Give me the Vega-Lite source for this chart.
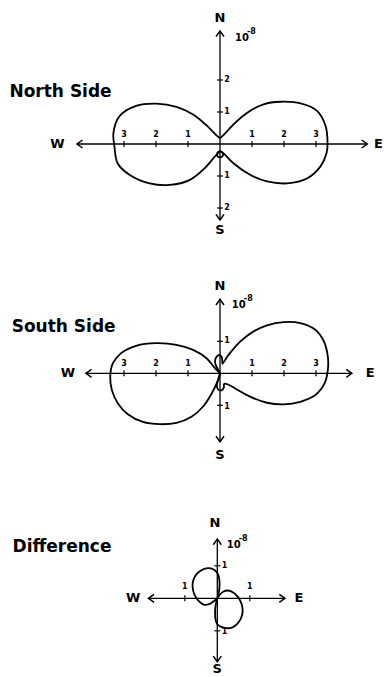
{
  "$schema": "https://vega.github.io/schema/vega-lite/v6.json",
  "padding": 0,
  "spacing": 0,
  "bounds": "flush",
  "background": "white",
  "config": {"view": {"stroke": null}, "text": {"font": "DejaVu Sans", "color": "black"}},
  "datasets": {
    "curves": [
      {"p":1,"l":"E","i":0,"x":0.0,"y":0.18},{"p":1,"l":"E","i":1,"x":0.13,"y":0.3},{"p":1,"l":"E","i":2,"x":0.42,"y":0.61},{"p":1,"l":"E","i":3,"x":0.84,"y":0.97},{"p":1,"l":"E","i":4,"x":1.36,"y":1.24},{"p":1,"l":"E","i":5,"x":1.89,"y":1.32},{"p":1,"l":"E","i":6,"x":2.52,"y":1.27},{"p":1,"l":"E","i":7,"x":3.04,"y":1.03},{"p":1,"l":"E","i":8,"x":3.3,"y":0.56},{"p":1,"l":"E","i":9,"x":3.36,"y":0.03},{"p":1,"l":"E","i":10,"x":3.33,"y":-0.28},{"p":1,"l":"E","i":11,"x":3.14,"y":-0.7},{"p":1,"l":"E","i":12,"x":2.73,"y":-1.07},{"p":1,"l":"E","i":13,"x":2.1,"y":-1.23},{"p":1,"l":"E","i":14,"x":1.47,"y":-1.17},{"p":1,"l":"E","i":15,"x":0.94,"y":-0.96},{"p":1,"l":"E","i":16,"x":0.42,"y":-0.6},{"p":1,"l":"E","i":17,"x":0.12,"y":-0.3},{"p":1,"l":"E","i":18,"x":0.0,"y":-0.22},
      {"p":1,"l":"W","i":0,"x":0.0,"y":0.18},{"p":1,"l":"W","i":1,"x":-0.12,"y":0.28},{"p":1,"l":"W","i":2,"x":-0.42,"y":0.58},{"p":1,"l":"W","i":3,"x":-0.84,"y":0.92},{"p":1,"l":"W","i":4,"x":-1.36,"y":1.16},{"p":1,"l":"W","i":5,"x":-1.99,"y":1.26},{"p":1,"l":"W","i":6,"x":-2.62,"y":1.19},{"p":1,"l":"W","i":7,"x":-3.14,"y":0.87},{"p":1,"l":"W","i":8,"x":-3.33,"y":0.35},{"p":1,"l":"W","i":9,"x":-3.3,"y":-0.07},{"p":1,"l":"W","i":10,"x":-3.2,"y":-0.6},{"p":1,"l":"W","i":11,"x":-2.83,"y":-0.96},{"p":1,"l":"W","i":12,"x":-2.2,"y":-1.23},{"p":1,"l":"W","i":13,"x":-1.57,"y":-1.28},{"p":1,"l":"W","i":14,"x":-0.94,"y":-1.12},{"p":1,"l":"W","i":15,"x":-0.47,"y":-0.75},{"p":1,"l":"W","i":16,"x":-0.16,"y":-0.39},{"p":1,"l":"W","i":17,"x":0.0,"y":-0.22},
      {"p":1,"l":"L","i":0,"x":0.0,"y":-0.22},{"p":1,"l":"L","i":1,"x":0.08,"y":-0.27},{"p":1,"l":"L","i":2,"x":0.09,"y":-0.36},{"p":1,"l":"L","i":3,"x":0.0,"y":-0.42},{"p":1,"l":"L","i":4,"x":-0.09,"y":-0.36},{"p":1,"l":"L","i":5,"x":-0.08,"y":-0.27},{"p":1,"l":"L","i":6,"x":0.0,"y":-0.22},
      {"p":2,"l":"E","i":0,"x":0.0,"y":0.0},{"p":2,"l":"E","i":1,"x":-0.08,"y":0.15},{"p":2,"l":"E","i":2,"x":-0.15,"y":0.32},{"p":2,"l":"E","i":3,"x":-0.13,"y":0.48},{"p":2,"l":"E","i":4,"x":-0.04,"y":0.57},{"p":2,"l":"E","i":5,"x":0.05,"y":0.52},{"p":2,"l":"E","i":6,"x":0.07,"y":0.4},{"p":2,"l":"E","i":7,"x":0.08,"y":0.3},{"p":2,"l":"E","i":8,"x":0.18,"y":0.45},{"p":2,"l":"E","i":9,"x":0.31,"y":0.63},{"p":2,"l":"E","i":10,"x":0.63,"y":0.99},{"p":2,"l":"E","i":11,"x":1.05,"y":1.31},{"p":2,"l":"E","i":12,"x":1.47,"y":1.5},{"p":2,"l":"E","i":13,"x":1.99,"y":1.6},{"p":2,"l":"E","i":14,"x":2.51,"y":1.57},{"p":2,"l":"E","i":15,"x":2.98,"y":1.36},{"p":2,"l":"E","i":16,"x":3.25,"y":0.99},{"p":2,"l":"E","i":17,"x":3.37,"y":0.52},{"p":2,"l":"E","i":18,"x":3.37,"y":0.1},{"p":2,"l":"E","i":19,"x":3.27,"y":-0.31},{"p":2,"l":"E","i":20,"x":2.98,"y":-0.68},{"p":2,"l":"E","i":21,"x":2.51,"y":-0.89},{"p":2,"l":"E","i":22,"x":1.99,"y":-0.97},{"p":2,"l":"E","i":23,"x":1.47,"y":-0.92},{"p":2,"l":"E","i":24,"x":0.94,"y":-0.73},{"p":2,"l":"E","i":25,"x":0.52,"y":-0.5},{"p":2,"l":"E","i":26,"x":0.25,"y":-0.35},{"p":2,"l":"E","i":27,"x":0.13,"y":-0.33},{"p":2,"l":"E","i":28,"x":0.12,"y":-0.45},{"p":2,"l":"E","i":29,"x":0.05,"y":-0.53},{"p":2,"l":"E","i":30,"x":-0.06,"y":-0.5},{"p":2,"l":"E","i":31,"x":-0.1,"y":-0.38},{"p":2,"l":"E","i":32,"x":-0.06,"y":-0.2},{"p":2,"l":"E","i":33,"x":0.0,"y":0.0},
      {"p":2,"l":"W","i":0,"x":0.0,"y":0.0},{"p":2,"l":"W","i":1,"x":-0.16,"y":0.16},{"p":2,"l":"W","i":2,"x":-0.42,"y":0.47},{"p":2,"l":"W","i":3,"x":-0.84,"y":0.73},{"p":2,"l":"W","i":4,"x":-1.36,"y":0.89},{"p":2,"l":"W","i":5,"x":-1.99,"y":0.94},{"p":2,"l":"W","i":6,"x":-2.62,"y":0.86},{"p":2,"l":"W","i":7,"x":-3.09,"y":0.63},{"p":2,"l":"W","i":8,"x":-3.35,"y":0.31},{"p":2,"l":"W","i":9,"x":-3.43,"y":-0.1},{"p":2,"l":"W","i":10,"x":-3.38,"y":-0.52},{"p":2,"l":"W","i":11,"x":-3.19,"y":-0.94},{"p":2,"l":"W","i":12,"x":-2.88,"y":-1.28},{"p":2,"l":"W","i":13,"x":-2.41,"y":-1.52},{"p":2,"l":"W","i":14,"x":-1.88,"y":-1.59},{"p":2,"l":"W","i":15,"x":-1.36,"y":-1.55},{"p":2,"l":"W","i":16,"x":-0.89,"y":-1.36},{"p":2,"l":"W","i":17,"x":-0.52,"y":-1.03},{"p":2,"l":"W","i":18,"x":-0.26,"y":-0.63},{"p":2,"l":"W","i":19,"x":-0.1,"y":-0.31},{"p":2,"l":"W","i":20,"x":-0.02,"y":-0.1},{"p":2,"l":"W","i":21,"x":0.0,"y":0.0},
      {"p":3,"l":"A","i":0,"x":0.0,"y":0.0},{"p":3,"l":"A","i":1,"x":0.05,"y":0.2},{"p":3,"l":"A","i":2,"x":0.07,"y":0.45},{"p":3,"l":"A","i":3,"x":0.05,"y":0.65},{"p":3,"l":"A","i":4,"x":0.0,"y":0.78},{"p":3,"l":"A","i":5,"x":-0.1,"y":0.88},{"p":3,"l":"A","i":6,"x":-0.25,"y":0.93},{"p":3,"l":"A","i":7,"x":-0.42,"y":0.9},{"p":3,"l":"A","i":8,"x":-0.58,"y":0.8},{"p":3,"l":"A","i":9,"x":-0.7,"y":0.65},{"p":3,"l":"A","i":10,"x":-0.76,"y":0.45},{"p":3,"l":"A","i":11,"x":-0.74,"y":0.22},{"p":3,"l":"A","i":12,"x":-0.65,"y":0.02},{"p":3,"l":"A","i":13,"x":-0.52,"y":-0.13},{"p":3,"l":"A","i":14,"x":-0.4,"y":-0.2},{"p":3,"l":"A","i":15,"x":-0.25,"y":-0.18},{"p":3,"l":"A","i":16,"x":-0.12,"y":-0.1},{"p":3,"l":"A","i":17,"x":0.0,"y":0.0},
      {"p":3,"l":"B","i":0,"x":0.0,"y":0.0},{"p":3,"l":"B","i":1,"x":-0.05,"y":-0.2},{"p":3,"l":"B","i":2,"x":-0.07,"y":-0.45},{"p":3,"l":"B","i":3,"x":-0.05,"y":-0.68},{"p":3,"l":"B","i":4,"x":0.0,"y":-0.8},{"p":3,"l":"B","i":5,"x":0.12,"y":-0.88},{"p":3,"l":"B","i":6,"x":0.28,"y":-0.92},{"p":3,"l":"B","i":7,"x":0.45,"y":-0.9},{"p":3,"l":"B","i":8,"x":0.6,"y":-0.8},{"p":3,"l":"B","i":9,"x":0.72,"y":-0.63},{"p":3,"l":"B","i":10,"x":0.78,"y":-0.42},{"p":3,"l":"B","i":11,"x":0.75,"y":-0.18},{"p":3,"l":"B","i":12,"x":0.65,"y":0.02},{"p":3,"l":"B","i":13,"x":0.5,"y":0.17},{"p":3,"l":"B","i":14,"x":0.33,"y":0.24},{"p":3,"l":"B","i":15,"x":0.18,"y":0.2},{"p":3,"l":"B","i":16,"x":0.07,"y":0.1},{"p":3,"l":"B","i":17,"x":0.0,"y":0.0}
    ],
    "axes": [
      {"p":1,"x":-4.47,"y":0,"x2":4.6,"y2":0},{"p":1,"x":0,"y":3.53,"x2":0,"y2":-2.375},
      {"p":2,"x":-4.19,"y":0,"x2":4.12,"y2":0},{"p":2,"x":0,"y":2.31,"x2":0,"y2":-2.14},
      {"p":3,"x":-2.12,"y":0,"x2":2.08,"y2":0},{"p":3,"x":0,"y":1.82,"x2":0,"y2":-1.95}
    ],
    "arrows": [
      {"p":1,"dir":"W","x":-4.47,"y":0},{"p":1,"dir":"E","x":4.6,"y":0},{"p":1,"dir":"N","x":0,"y":3.53},{"p":1,"dir":"S","x":0,"y":-2.375},
      {"p":2,"dir":"W","x":-4.19,"y":0},{"p":2,"dir":"E","x":4.12,"y":0},{"p":2,"dir":"N","x":0,"y":2.31},{"p":2,"dir":"S","x":0,"y":-2.14},
      {"p":3,"dir":"W","x":-2.12,"y":0},{"p":3,"dir":"E","x":2.08,"y":0},{"p":3,"dir":"N","x":0,"y":1.82},{"p":3,"dir":"S","x":0,"y":-1.95}
    ],
    "ticks": [
      {"p":1,"o":"h","x":-3,"y":0},{"p":1,"o":"h","x":-2,"y":0},{"p":1,"o":"h","x":-1,"y":0},{"p":1,"o":"h","x":1,"y":0},{"p":1,"o":"h","x":2,"y":0},{"p":1,"o":"h","x":3,"y":0},
      {"p":1,"o":"v","x":0,"y":2},{"p":1,"o":"v","x":0,"y":1},{"p":1,"o":"v","x":0,"y":-1},{"p":1,"o":"v","x":0,"y":-2},
      {"p":2,"o":"h","x":-3,"y":0},{"p":2,"o":"h","x":-2,"y":0},{"p":2,"o":"h","x":-1,"y":0},{"p":2,"o":"h","x":1,"y":0},{"p":2,"o":"h","x":2,"y":0},{"p":2,"o":"h","x":3,"y":0},
      {"p":2,"o":"v","x":0,"y":1},{"p":2,"o":"v","x":0,"y":-1},
      {"p":3,"o":"h","x":-1,"y":0},{"p":3,"o":"h","x":1,"y":0},
      {"p":3,"o":"v","x":0,"y":1},{"p":3,"o":"v","x":0,"y":-1}
    ],
    "ticklabels": [
      {"p":1,"x":-3,"y":0.27,"t":"3"},{"p":1,"x":-2,"y":0.27,"t":"2"},{"p":1,"x":-1,"y":0.27,"t":"1"},{"p":1,"x":1,"y":0.27,"t":"1"},{"p":1,"x":2,"y":0.27,"t":"2"},{"p":1,"x":3,"y":0.27,"t":"3"},
      {"p":1,"x":0.22,"y":2,"t":"2"},{"p":1,"x":0.22,"y":1,"t":"1"},{"p":1,"x":0.22,"y":-1,"t":"1"},{"p":1,"x":0.22,"y":-2,"t":"2"},
      {"p":2,"x":-3,"y":0.3,"t":"3"},{"p":2,"x":-2,"y":0.3,"t":"2"},{"p":2,"x":-1,"y":0.3,"t":"1"},{"p":2,"x":1,"y":0.3,"t":"1"},{"p":2,"x":2,"y":0.3,"t":"2"},{"p":2,"x":3,"y":0.3,"t":"3"},
      {"p":2,"x":0.22,"y":1,"t":"1"},{"p":2,"x":0.22,"y":-1.05,"t":"1"},
      {"p":3,"x":-1,"y":0.35,"t":"1"},{"p":3,"x":1,"y":0.35,"t":"1"},
      {"p":3,"x":0.22,"y":1,"t":"1"},{"p":3,"x":0.22,"y":-1.05,"t":"1"}
    ],
    "exps": [
      {"p":1,"x":0.47,"y":3.31,"t":"10","s":"-8"},
      {"p":2,"x":0.37,"y":2.14,"t":"10","s":"-8"},
      {"p":3,"x":0.29,"y":1.64,"t":"10","s":"-8"}
    ],
    "compass": [
      {"p":1,"x":0,"y":3.94,"t":"N"},{"p":1,"x":0,"y":-2.69,"t":"S"},{"p":1,"x":-5.08,"y":0,"t":"W"},{"p":1,"x":4.95,"y":0,"t":"E"},
      {"p":2,"x":0,"y":2.73,"t":"N"},{"p":2,"x":0,"y":-2.55,"t":"S"},{"p":2,"x":-4.75,"y":0,"t":"W"},{"p":2,"x":4.69,"y":0,"t":"E"},
      {"p":3,"x":-0.07,"y":2.32,"t":"N"},{"p":3,"x":0,"y":-2.19,"t":"S"},{"p":3,"x":-2.59,"y":0,"t":"W"},{"p":3,"x":2.51,"y":0,"t":"E"}
    ],
    "titles": [
      {"p":1,"x":-6.58,"y":1.48,"t":"North Side"},
      {"p":2,"x":-6.51,"y":1.3,"t":"South Side"},
      {"p":3,"x":-6.3,"y":1.415,"t":"Difference"}
    ]
  },
  "vconcat": [
    {
      "width": 384, "height": 250,
      "encoding": {
        "x": {"field": "x", "type": "quantitative", "scale": {"domain": [-6.875, 5.125], "nice": false, "zero": false}, "axis": null},
        "y": {"field": "y", "type": "quantitative", "scale": {"domain": [-3.3125, 4.5], "nice": false, "zero": false}, "axis": null}
      },
      "layer": [
        {"data": {"name": "axes"}, "transform": [{"filter": "datum.p == 1"}], "mark": {"type": "rule", "color": "black", "strokeWidth": 1.3}, "encoding": {"x2": {"field": "x2"}, "y2": {"field": "y2"}}},
        {"data": {"name": "arrows"}, "transform": [{"filter": "datum.p == 1"}], "mark": {"type": "point", "filled": false, "color": "black", "strokeWidth": 1.5, "size": 64, "opacity": 1}, "encoding": {"shape": {"field": "dir", "type": "nominal", "scale": {"domain": ["N","S","E","W"], "range": ["M-1,1.4L0,0L1,1.4", "M-1,-1.4L0,0L1,-1.4", "M-1.4,-1L0,0L-1.4,1", "M1.4,-1L0,0L1.4,1"]}, "legend": null}}},
        {"data": {"name": "ticks"}, "transform": [{"filter": "datum.p == 1 && datum.o == 'h'"}], "mark": {"type": "tick", "orient": "vertical", "size": 6, "thickness": 1.2, "color": "black", "opacity": 1}},
        {"data": {"name": "ticks"}, "transform": [{"filter": "datum.p == 1 && datum.o == 'v'"}], "mark": {"type": "tick", "orient": "horizontal", "size": 6, "thickness": 1.2, "color": "black", "opacity": 1}},
        {"data": {"name": "curves"}, "transform": [{"filter": "datum.p == 1"}], "mark": {"type": "line", "color": "black", "strokeWidth": 1.8, "interpolate": "catmull-rom"}, "encoding": {"detail": {"field": "l"}, "order": {"field": "i", "type": "quantitative"}}},
        {"data": {"name": "ticklabels"}, "transform": [{"filter": "datum.p == 1"}], "mark": {"type": "text", "fontSize": 8, "fontWeight": "bold"}, "encoding": {"text": {"field": "t"}}},
        {"data": {"name": "exps"}, "transform": [{"filter": "datum.p == 1"}], "mark": {"type": "text", "fontSize": 10, "fontWeight": "bold", "align": "left"}, "encoding": {"text": {"field": "t"}}},
        {"data": {"name": "exps"}, "transform": [{"filter": "datum.p == 1"}], "mark": {"type": "text", "fontSize": 8, "fontWeight": "bold", "align": "left", "dx": 12, "dy": -6}, "encoding": {"text": {"field": "s"}}},
        {"data": {"name": "compass"}, "transform": [{"filter": "datum.p == 1"}], "mark": {"type": "text", "fontSize": 13, "fontWeight": "bold"}, "encoding": {"text": {"field": "t"}}},
        {"data": {"name": "titles"}, "transform": [{"filter": "datum.p == 1"}], "mark": {"type": "text", "fontSize": 17, "fontWeight": "bold", "align": "left", "baseline": "alphabetic"}, "encoding": {"text": {"field": "t"}}}
      ]
    },
    {
      "width": 384, "height": 230,
      "encoding": {
        "x": {"field": "x", "type": "quantitative", "scale": {"domain": [-6.875, 5.125], "nice": false, "zero": false}, "axis": null},
        "y": {"field": "y", "type": "quantitative", "scale": {"domain": [-3.334, 3.853], "nice": false, "zero": false}, "axis": null}
      },
      "layer": [
        {"data": {"name": "axes"}, "transform": [{"filter": "datum.p == 2"}], "mark": {"type": "rule", "color": "black", "strokeWidth": 1.3}, "encoding": {"x2": {"field": "x2"}, "y2": {"field": "y2"}}},
        {"data": {"name": "arrows"}, "transform": [{"filter": "datum.p == 2"}], "mark": {"type": "point", "filled": false, "color": "black", "strokeWidth": 1.5, "size": 64, "opacity": 1}, "encoding": {"shape": {"field": "dir", "type": "nominal", "scale": {"domain": ["N","S","E","W"], "range": ["M-1,1.4L0,0L1,1.4", "M-1,-1.4L0,0L1,-1.4", "M-1.4,-1L0,0L-1.4,1", "M1.4,-1L0,0L1.4,1"]}, "legend": null}}},
        {"data": {"name": "ticks"}, "transform": [{"filter": "datum.p == 2 && datum.o == 'h'"}], "mark": {"type": "tick", "orient": "vertical", "size": 6, "thickness": 1.2, "color": "black", "opacity": 1}},
        {"data": {"name": "ticks"}, "transform": [{"filter": "datum.p == 2 && datum.o == 'v'"}], "mark": {"type": "tick", "orient": "horizontal", "size": 6, "thickness": 1.2, "color": "black", "opacity": 1}},
        {"data": {"name": "curves"}, "transform": [{"filter": "datum.p == 2"}], "mark": {"type": "line", "color": "black", "strokeWidth": 1.8, "interpolate": "catmull-rom"}, "encoding": {"detail": {"field": "l"}, "order": {"field": "i", "type": "quantitative"}}},
        {"data": {"name": "ticklabels"}, "transform": [{"filter": "datum.p == 2"}], "mark": {"type": "text", "fontSize": 8, "fontWeight": "bold"}, "encoding": {"text": {"field": "t"}}},
        {"data": {"name": "exps"}, "transform": [{"filter": "datum.p == 2"}], "mark": {"type": "text", "fontSize": 10, "fontWeight": "bold", "align": "left"}, "encoding": {"text": {"field": "t"}}},
        {"data": {"name": "exps"}, "transform": [{"filter": "datum.p == 2"}], "mark": {"type": "text", "fontSize": 8, "fontWeight": "bold", "align": "left", "dx": 12, "dy": -6}, "encoding": {"text": {"field": "s"}}},
        {"data": {"name": "compass"}, "transform": [{"filter": "datum.p == 2"}], "mark": {"type": "text", "fontSize": 13, "fontWeight": "bold"}, "encoding": {"text": {"field": "t"}}},
        {"data": {"name": "titles"}, "transform": [{"filter": "datum.p == 2"}], "mark": {"type": "text", "fontSize": 17, "fontWeight": "bold", "align": "left", "baseline": "alphabetic"}, "encoding": {"text": {"field": "t"}}}
      ]
    },
    {
      "width": 384, "height": 197,
      "encoding": {
        "x": {"field": "x", "type": "quantitative", "scale": {"domain": [-6.686, 5.129], "nice": false, "zero": false}, "axis": null},
        "y": {"field": "y", "type": "quantitative", "scale": {"domain": [-2.422, 3.64], "nice": false, "zero": false}, "axis": null}
      },
      "layer": [
        {"data": {"name": "axes"}, "transform": [{"filter": "datum.p == 3"}], "mark": {"type": "rule", "color": "black", "strokeWidth": 1.3}, "encoding": {"x2": {"field": "x2"}, "y2": {"field": "y2"}}},
        {"data": {"name": "arrows"}, "transform": [{"filter": "datum.p == 3"}], "mark": {"type": "point", "filled": false, "color": "black", "strokeWidth": 1.5, "size": 64, "opacity": 1}, "encoding": {"shape": {"field": "dir", "type": "nominal", "scale": {"domain": ["N","S","E","W"], "range": ["M-1,1.4L0,0L1,1.4", "M-1,-1.4L0,0L1,-1.4", "M-1.4,-1L0,0L-1.4,1", "M1.4,-1L0,0L1.4,1"]}, "legend": null}}},
        {"data": {"name": "ticks"}, "transform": [{"filter": "datum.p == 3 && datum.o == 'h'"}], "mark": {"type": "tick", "orient": "vertical", "size": 6, "thickness": 1.2, "color": "black", "opacity": 1}},
        {"data": {"name": "ticks"}, "transform": [{"filter": "datum.p == 3 && datum.o == 'v'"}], "mark": {"type": "tick", "orient": "horizontal", "size": 6, "thickness": 1.2, "color": "black", "opacity": 1}},
        {"data": {"name": "curves"}, "transform": [{"filter": "datum.p == 3"}], "mark": {"type": "line", "color": "black", "strokeWidth": 1.8, "interpolate": "catmull-rom"}, "encoding": {"detail": {"field": "l"}, "order": {"field": "i", "type": "quantitative"}}},
        {"data": {"name": "ticklabels"}, "transform": [{"filter": "datum.p == 3"}], "mark": {"type": "text", "fontSize": 8, "fontWeight": "bold"}, "encoding": {"text": {"field": "t"}}},
        {"data": {"name": "exps"}, "transform": [{"filter": "datum.p == 3"}], "mark": {"type": "text", "fontSize": 10, "fontWeight": "bold", "align": "left"}, "encoding": {"text": {"field": "t"}}},
        {"data": {"name": "exps"}, "transform": [{"filter": "datum.p == 3"}], "mark": {"type": "text", "fontSize": 8, "fontWeight": "bold", "align": "left", "dx": 12, "dy": -6}, "encoding": {"text": {"field": "s"}}},
        {"data": {"name": "compass"}, "transform": [{"filter": "datum.p == 3"}], "mark": {"type": "text", "fontSize": 13, "fontWeight": "bold"}, "encoding": {"text": {"field": "t"}}},
        {"data": {"name": "titles"}, "transform": [{"filter": "datum.p == 3"}], "mark": {"type": "text", "fontSize": 17, "fontWeight": "bold", "align": "left", "baseline": "alphabetic"}, "encoding": {"text": {"field": "t"}}}
      ]
    }
  ]
}
